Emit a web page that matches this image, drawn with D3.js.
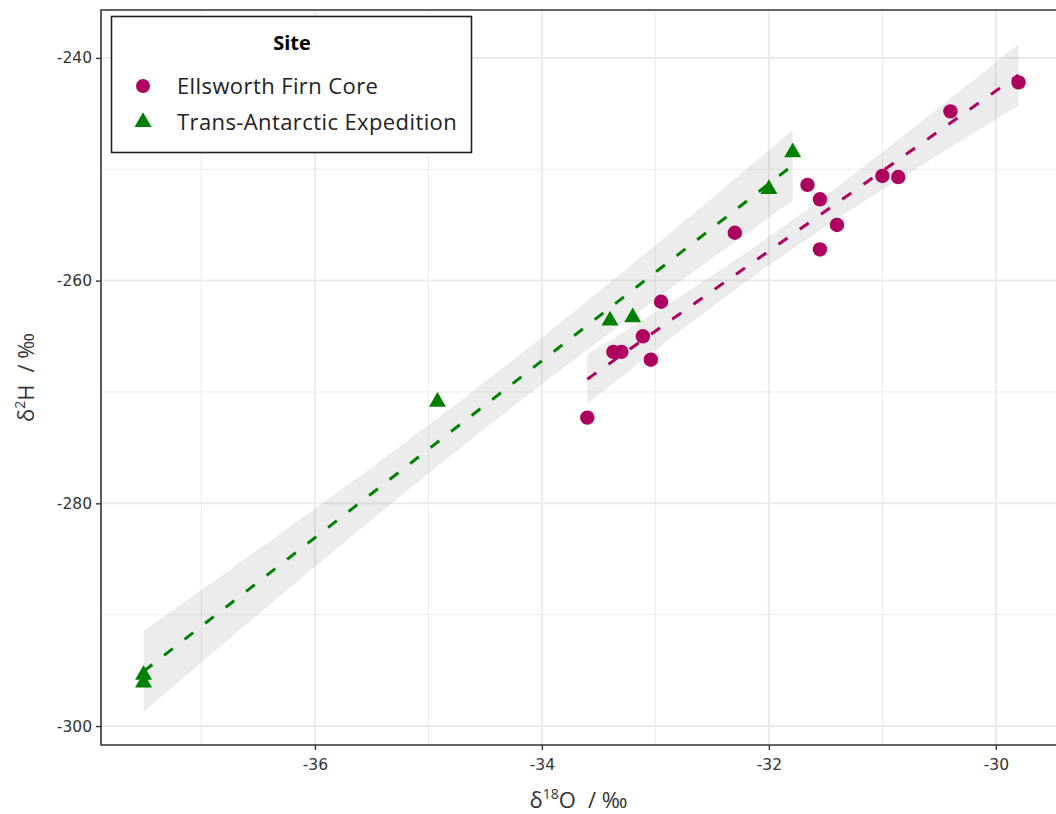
<!DOCTYPE html>
<html><head><meta charset="utf-8">
<script src="https://cdn.jsdelivr.net/npm/d3@7"></script>
<style>body{margin:0;background:#fff}svg{display:block;font-family:"Open Sans","Noto Sans",sans-serif}</style>
</head><body><svg id="c" width="1056" height="814"></svg>
<script>
const sites = ["Ellsworth Firn Core", "Trans-Antarctic Expedition"];
const ellsworthO = [-33.60,-33.37,-33.30,-33.11,-33.04,-32.95,-32.30,-31.66,-31.55,-31.55,-31.40,-31.00,-30.86,-30.40,-29.80];
const ellsworthH = [-272.3,-266.4,-266.4,-265.0,-267.1,-261.9,-255.7,-251.4,-252.7,-257.2,-255.0,-250.6,-250.7,-244.8,-242.2];
const transO = [-37.51,-37.51,-34.92,-33.40,-33.20,-32.00,-31.79];
const transH = [-295.3,-296.0,-270.8,-263.5,-263.2,-251.7,-248.4];
const xTicks = [-36,-34,-32,-30];
const xMinor = [-37,-35,-33,-31];
const yTicks = [-300,-280,-260,-240];
const yMinor = [-290,-270,-250];
const colors = ["#AE005E", "#008000"];
const tCrit = {1:12.706,2:4.303,3:3.182,4:2.776,5:2.571,6:2.447,7:2.365,8:2.306,9:2.262,10:2.228,11:2.201,12:2.179,13:2.160,14:2.145,15:2.131};

const svg = d3.select("#c");
const L = 101, T = 10, B = 745, R = 1056;
const x = d3.scaleLinear().domain([-37.885, -29.47]).range([L, R]);
const y = d3.scaleLinear().domain([-301.7, -235.7]).range([B, T]);

// grid
const g = svg.append("g");
g.selectAll(".xm").data(xMinor).join("line").attr("x1",d=>x(d)).attr("x2",d=>x(d)).attr("y1",T).attr("y2",B).attr("stroke","#EBEBEB").attr("stroke-width",1);
g.selectAll(".ym").data(yMinor).join("line").attr("y1",d=>y(d)).attr("y2",d=>y(d)).attr("x1",L).attr("x2",R+10).attr("stroke","#EBEBEB").attr("stroke-width",1);
g.selectAll(".xM").data(xTicks).join("line").attr("x1",d=>x(d)).attr("x2",d=>x(d)).attr("y1",T).attr("y2",B).attr("stroke","#EBEBEB").attr("stroke-width",2);
g.selectAll(".yM").data(yTicks).join("line").attr("y1",d=>y(d)).attr("y2",d=>y(d)).attr("x1",L).attr("x2",R+10).attr("stroke","#EBEBEB").attr("stroke-width",2);

const groups = [
  {name: sites[0], xs: ellsworthO, ys: ellsworthH, color: colors[0], shape: "circle"},
  {name: sites[1], xs: transO, ys: transH, color: colors[1], shape: "triangle"}
];

function fit(xs, ys) {
  const n = xs.length, mx = d3.mean(xs), my = d3.mean(ys);
  let sxx = 0, sxy = 0;
  xs.forEach((v,i)=>{sxx += (v-mx)**2; sxy += (v-mx)*(ys[i]-my);});
  const b = sxy/sxx, a = my - b*mx;
  let sse = 0; xs.forEach((v,i)=>{sse += (ys[i]-(a+b*v))**2;});
  const s = Math.sqrt(sse/(n-2)), t = tCrit[n-2];
  const [x0, x1] = d3.extent(xs);
  const pts = d3.range(81).map(k => {
    const xv = x0 + (x1-x0)*k/80, yv = a + b*xv;
    const se = s*Math.sqrt(1/n + (xv-mx)**2/sxx);
    return {x: xv, y: yv, lo: yv - t*se, hi: yv + t*se};
  });
  return pts;
}

const bandG = svg.append("g"), lineG = svg.append("g"), ptG = svg.append("g");
const tri = d3.symbol().type(d3.symbolTriangle).size(125);
groups.forEach(gr => {
  const pts = fit(gr.xs, gr.ys);
  bandG.append("path").datum(pts)
    .attr("d", d3.area().x(d=>x(d.x)).y0(d=>y(d.lo)).y1(d=>y(d.hi)))
    .attr("fill", "#999999").attr("fill-opacity", 0.19);
  lineG.append("path").datum(pts)
    .attr("d", d3.line().x(d=>x(d.x)).y(d=>y(d.y)))
    .attr("fill","none").attr("stroke", gr.color).attr("stroke-width",3).attr("stroke-dasharray","11,15");
});
groups.forEach(gr => {
  const data = gr.xs.map((v,i)=>[v, gr.ys[i]]);
  if (gr.shape === "circle") {
    ptG.selectAll(null).data(data).join("circle").attr("cx",d=>x(d[0])).attr("cy",d=>y(d[1])).attr("r",7.2).attr("fill",gr.color);
  } else {
    ptG.selectAll(null).data(data).join("path").attr("d", tri).attr("transform", d=>`translate(${x(d[0])},${y(d[1])+1})`).attr("fill",gr.color);
  }
});

// panel border (top, left, bottom)
svg.append("path").attr("d", `M${R+5},${T} H${L} V${B} H${R+5}`).attr("fill","none").attr("stroke","#333").attr("stroke-width",1.6);

// axes
const xAxis = svg.append("g").attr("transform",`translate(0,${B})`).call(d3.axisBottom(x).tickValues(xTicks).tickSize(5).tickPadding(9).tickFormat(d3.format("d")));
const yAxis = svg.append("g").attr("transform",`translate(${L},0)`).call(d3.axisLeft(y).tickValues(yTicks).tickSize(5).tickPadding(4).tickFormat(d3.format("d")));
[xAxis, yAxis].forEach(a => {
  a.select(".domain").remove();
  a.selectAll(".tick line").attr("stroke","#333").attr("stroke-width",1.4);
  a.selectAll("text").attr("fill","#333").style("font-size","15.5px").style("font-family","'DejaVu Sans',sans-serif");
});
xAxis.selectAll("text").text(d => "-" + Math.abs(d));
yAxis.selectAll("text").text(d => "-" + Math.abs(d));

// axis titles
const xt = svg.append("text").attr("x",(L+R)/2).attr("y",808).attr("text-anchor","middle").attr("fill","#333").style("font-size","22px");
xt.append("tspan").text("δ");
xt.append("tspan").text("18").attr("dy",-9).style("font-size","14px");
xt.append("tspan").text("O").attr("dy",9);
xt.append("tspan").text("/ ‰").attr("dx",12);
const yt = svg.append("text").attr("transform",`translate(34,${(T+B)/2}) rotate(-90)`).attr("text-anchor","middle").attr("fill","#333").style("font-size","22px");
yt.append("tspan").text("δ");
yt.append("tspan").text("2").attr("dy",-9).style("font-size","14px");
yt.append("tspan").text("H").attr("dy",9);
yt.append("tspan").text("/ ‰").attr("dx",12);

// legend
const lg = svg.append("g");
lg.append("rect").attr("x",111.5).attr("y",16.5).attr("width",360).attr("height",136).attr("fill","#fff").attr("stroke","#222").attr("stroke-width",1.6);
lg.append("text").attr("x",292).attr("y",50).attr("text-anchor","middle").style("font-size","20px").style("font-weight","bold").attr("fill","#000").text("Site");
groups.forEach((gr,i) => {
  const cy = 86 + i*36;
  if (gr.shape === "circle") lg.append("circle").attr("cx",143).attr("cy",cy).attr("r",7).attr("fill",gr.color);
  else lg.append("path").attr("d",tri).attr("transform",`translate(143,${cy})`).attr("fill",gr.color);
  lg.append("text").attr("x",177).attr("y",cy+8).style("font-size","22px").style("letter-spacing","0.4px").attr("fill","#222").text(gr.name);
});
</script></body></html>
